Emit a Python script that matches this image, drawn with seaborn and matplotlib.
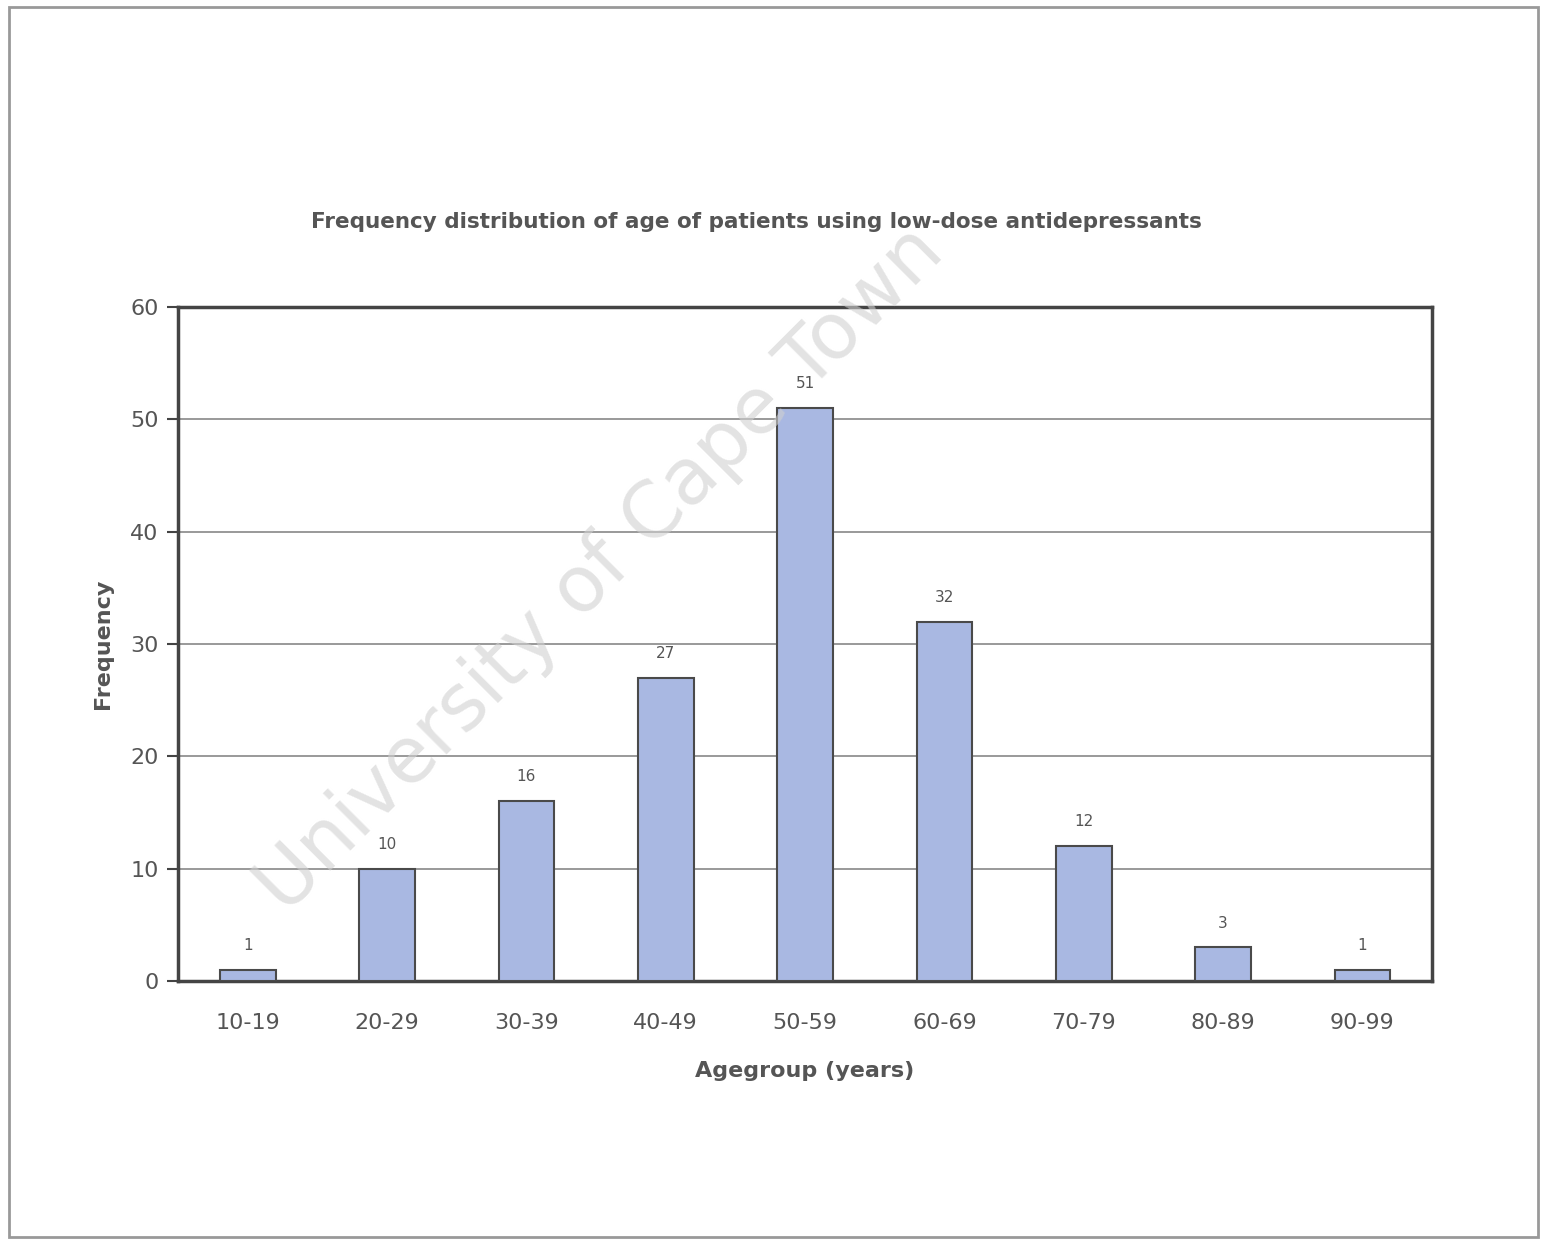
import matplotlib
matplotlib.use('Agg')
import matplotlib.pyplot as plt
import seaborn as sns
from matplotlib.patches import Rectangle
from matplotlib.ticker import FixedLocator

age_groups = ['10-19', '20-29', '30-39', '40-49', '50-59', '60-69', '70-79', '80-89', '90-99']
frequency = [1, 10, 16, 27, 51, 32, 12, 3, 1]

sns.set_style('white')
plt.rcParams['font.family'] = ['DejaVu Sans']

text_col = '#555555'
fig = plt.figure(figsize=(15.43, 12.42), dpi=100)
ax = fig.add_axes([0.1154, 0.2101, 0.8127, 0.5427])

sns.barplot(x=age_groups, y=frequency, color='#a9b8e2', width=0.4,
            edgecolor='#4a4a4a', linewidth=1.5, saturation=1, ax=ax, zorder=3)

for i, v in enumerate(frequency):
    ax.text(i, v + 1.5, str(v), ha='center', va='bottom', fontsize=11, color=text_col)

ax.set_ylim(0, 60)
ax.set_xlim(-0.5, len(age_groups) - 0.5)
ax.set_yticks(range(0, 61, 10))
ax.yaxis.grid(True, color='#888888', linewidth=1.2, zorder=0)
ax.set_axisbelow(True)
for s in ax.spines.values():
    s.set_color('#444444')
    s.set_linewidth(2.5)

ax.xaxis.set_minor_locator(FixedLocator([i - 0.5 for i in range(len(age_groups) + 1)]))
ax.tick_params(axis='x', which='major', length=0, pad=23, labelsize=16, labelcolor=text_col)
ax.tick_params(axis='x', which='minor', direction='out', length=8, width=1.5, color='#444444')
ax.tick_params(axis='y', direction='out', length=8, width=1.5, color='#444444',
               labelsize=16, labelcolor=text_col, pad=6, left=True)

ax.set_xlabel('Agegroup (years)', fontsize=16, fontweight='bold', color=text_col, labelpad=20)
ax.set_ylabel('Frequency', fontsize=16, fontweight='bold', color=text_col, labelpad=12)

fig.text(0.49, 0.821, 'Frequency distribution of age of patients using low-dose antidepressants',
         ha='center', va='center', fontsize=15.5, fontweight='bold', color=text_col)

# watermark
fig.text(0.389, 0.541, 'University of Cape Town', rotation=45, ha='center', va='center',
         fontsize=56, color='#d0d0d0', alpha=0.6, zorder=10)

# outer frame
fig.patches.append(Rectangle((0.006, 0.004), 0.991, 0.99, transform=fig.transFigure,
                             fill=False, edgecolor='#999999', linewidth=2))

fig.savefig('out.png', dpi=100, facecolor='white')
